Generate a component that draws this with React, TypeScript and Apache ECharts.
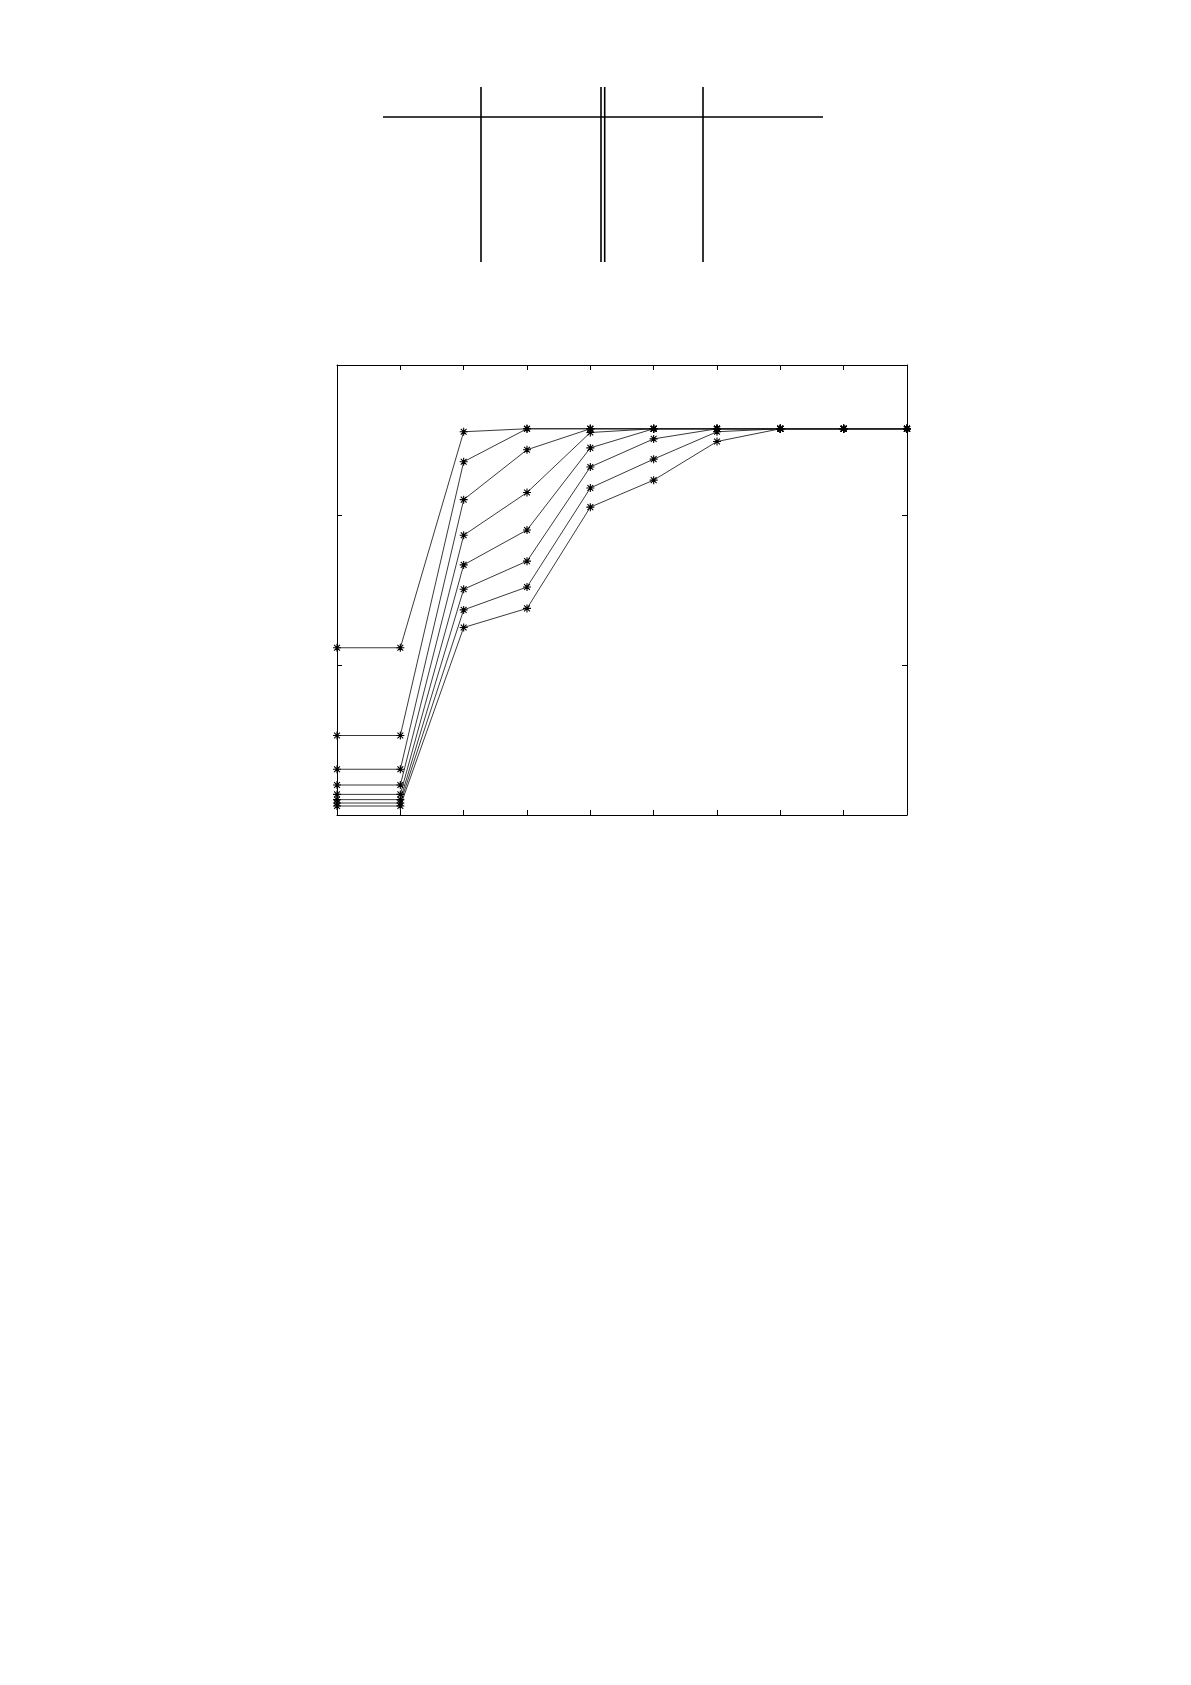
import React, { useEffect, useRef } from "react";
import * as echarts from "echarts";

const xs = [0, 1, 2, 3, 4, 5, 6, 7, 8, 9];
const s1 = [0.446, 0.446, 1.022, 1.03, 1.03, 1.03, 1.03, 1.03, 1.03, 1.03];
const s2 = [0.212, 0.212, 0.942, 1.03, 1.03, 1.03, 1.03, 1.03, 1.03, 1.03];
const s3 = [0.122, 0.122, 0.841, 0.974, 1.03, 1.03, 1.03, 1.03, 1.03, 1.03];
const s4 = [0.08, 0.08, 0.746, 0.86, 1.02, 1.03, 1.03, 1.03, 1.03, 1.03];
const s5 = [0.055, 0.055, 0.667, 0.76, 0.979, 1.03, 1.03, 1.03, 1.03, 1.03];
const s6 = [0.041, 0.041, 0.602, 0.677, 0.928, 1.003, 1.03, 1.03, 1.03, 1.03];
const s7 = [0.032, 0.032, 0.547, 0.608, 0.872, 0.949, 1.022, 1.03, 1.03, 1.03];
const s8 = [0.024, 0.024, 0.5, 0.551, 0.821, 0.893, 0.996, 1.03, 1.03, 1.03];
const allSeries = [s1, s2, s3, s4, s5, s6, s7, s8];

const STAR = "path://M-4,0L4,0M0,-4L0,4M-2.9,-2.9L2.9,2.9M-2.9,2.9L2.9,-2.9";

export default function App() {
  const ref = useRef<HTMLDivElement>(null);
  useEffect(() => {
    if (!ref.current) return;
    const chart = echarts.init(ref.current, null, { renderer: "svg" });
    const axisCommon = {
      type: "value" as const,
      axisLine: { show: true, onZero: false, lineStyle: { color: "#000", width: 1 } },
      axisTick: { show: true, inside: true, length: 5, lineStyle: { color: "#000", width: 1 } },
      axisLabel: { show: false },
      splitLine: { show: false },
    };
    const lineSeg = (x1: number, y1: number, x2: number, y2: number) => ({
      type: "line",
      shape: { x1, y1, x2, y2 },
      style: { stroke: "#000", lineWidth: 1.6 },
    });
    chart.setOption({
      animation: false,
      backgroundColor: "#fff",
      grid: { left: 337, top: 365, width: 570, height: 450, containLabel: false },
      xAxis: [
        { ...axisCommon, min: 0, max: 9, interval: 1, position: "bottom" },
        { ...axisCommon, min: 0, max: 9, interval: 1, position: "top" },
      ],
      yAxis: [
        { ...axisCommon, min: 0, max: 1.2, interval: 0.4, position: "left" },
        { ...axisCommon, min: 0, max: 1.2, interval: 0.4, position: "right" },
      ],
      graphic: [
        lineSeg(383, 117, 823, 117),
        lineSeg(481, 87, 481, 262),
        lineSeg(601, 87, 601, 262),
        lineSeg(604.7, 87, 604.7, 262),
        lineSeg(703, 87, 703, 262),
      ],
      series: allSeries.map((vals, i) => ({
        name: "s" + (i + 1),
        type: "line",
        xAxisIndex: 0,
        yAxisIndex: 0,
        data: xs.map((x, j) => [x, vals[j]]),
        symbol: STAR,
        symbolSize: 8,
        showSymbol: true,
        lineStyle: { color: "#222", width: 0.9 },
        itemStyle: { color: "none", borderColor: "#000", borderWidth: 1.1 },
        emphasis: { disabled: true },
        z: 2,
      })),
    });
    return () => chart.dispose();
  }, []);
  return (
    <div
      ref={ref}
      style={{ position: "absolute", left: 0, top: 0, width: 1191, height: 1685, background: "#fff", overflow: "hidden" }}
    />
  );
}
